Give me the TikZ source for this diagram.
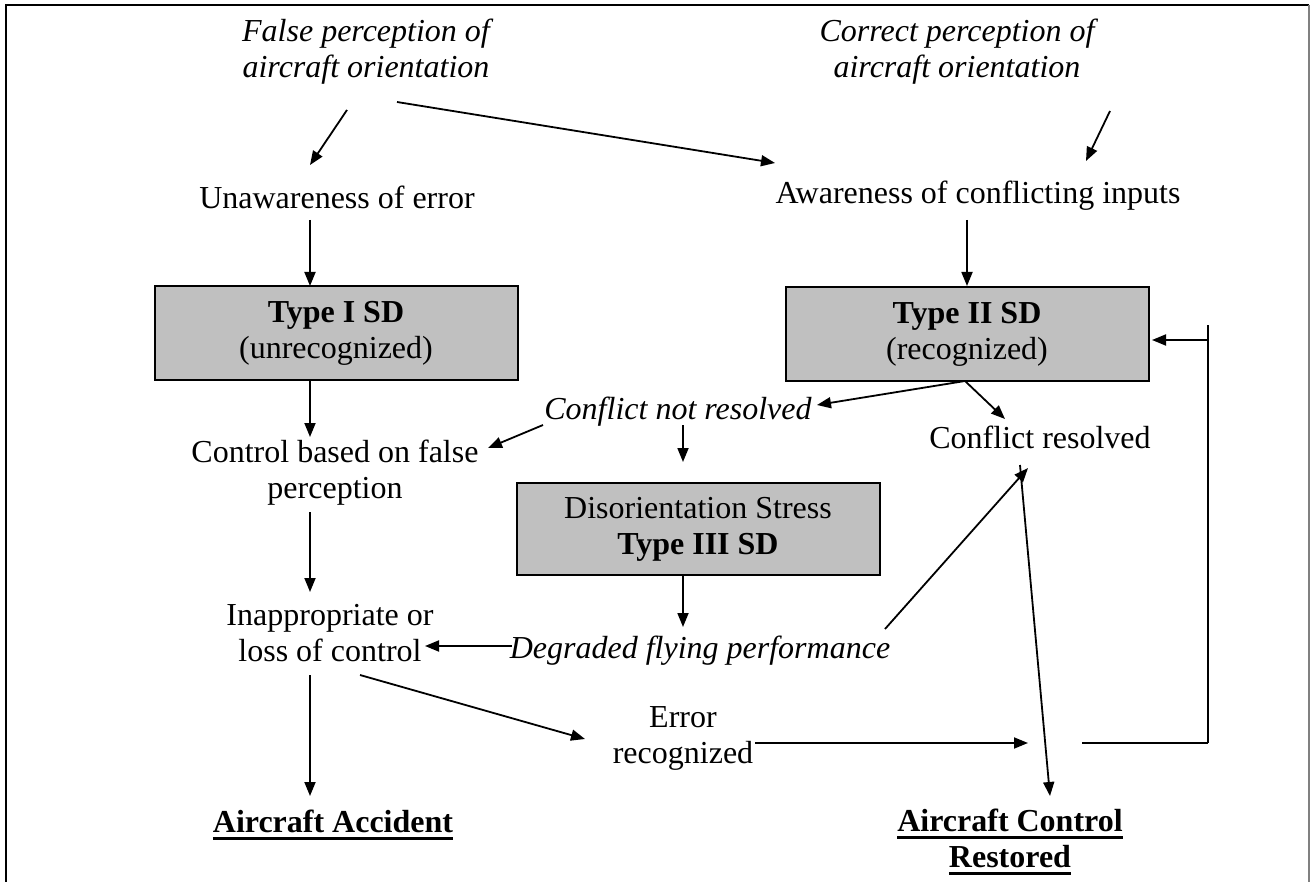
\documentclass[tikz,border=0pt]{standalone}
\usepackage{fontspec}
\setmainfont{Liberation Serif}
\usetikzlibrary{arrows.meta}
\definecolor{boxgray}{RGB}{192,192,192}
\newcommand{\thkul}[1]{\leavevmode\vtop{\hbox{#1}\kern1.8pt\hrule height 1.4pt}}
\begin{document}
\begin{tikzpicture}[x=0.5pt,y=-0.5pt,
  txt/.style={font=\fontsize{16}{18}\selectfont, align=center, inner sep=0pt},
  ital/.style={txt, font=\fontsize{16}{18}\selectfont\itshape},
  bld/.style={txt, font=\fontsize{16}{18}\selectfont\bfseries},
  sdbox/.style={txt, draw, line width=1pt, fill=boxgray, minimum width=181.5pt, minimum height=47pt},
  arr/.style={line width=0.9pt, -{Triangle[length=7pt,width=5.5pt]}},
  ln/.style={line width=0.9pt}]
\useasboundingbox (0,0) rectangle (1312,882);
% frame
\draw[line width=1.2pt] (6,882) -- (6,5) -- (1309,5);
\draw[line width=0.6pt, gray] (1309,5) -- (1309,882);
% nodes
\node[ital] (fp) at (366,52) {False perception of\\aircraft orientation};
\node[ital] (cp) at (957,52) {Correct perception of\\aircraft orientation};
\node[txt] (un) at (337,197) {Unawareness of error};
\node[txt] (aw) at (978,196) {Awareness of conflicting inputs};
\node[sdbox] (t1) at (336,333) {\textbf{Type I SD}\\(unrecognized)};
\node[sdbox] (t2) at (967,334) {\textbf{Type II SD}\\(recognized)};
\node[ital] (cnr) at (678,412) {Conflict not resolved};
\node[txt] (cr) at (1040,437) {Conflict resolved};
\node[txt] (cf) at (335,473) {Control based on false\\perception};
\node[sdbox, minimum height=46pt] (t3) at (698,529) {Disorientation Stress\\\textbf{Type III SD}};
\node[txt] (ia) at (330,633) {Inappropriate or\\loss of control};
\node[ital] (dfp) at (700,651) {Degraded flying performance};
\node[txt] (er) at (683,738) {Error\\recognized};
\node[bld] (aa) at (333,825) {\thkul{Aircraft Accident}};
\node[bld] (acr) at (1010,842) {\thkul{Aircraft Control}\\\thkul{Restored}};
% connector end points
\coordinate (fpa) at (347,110);  \coordinate (una) at (310,165);
\coordinate (fpb) at (397,102);  \coordinate (awa) at (775,163);
\coordinate (cpa) at (1110,111); \coordinate (awb) at (1086,161);
\coordinate (unb) at (310,220);  \coordinate (t1a) at (310,286);
\coordinate (t1b) at (310,381);  \coordinate (cfa) at (310,437);
\coordinate (cfb) at (310,512);  \coordinate (iaa) at (310,592);
\coordinate (iab) at (310,675);  \coordinate (aaa) at (310,796);
\coordinate (awc) at (967,220);  \coordinate (t2a) at (967,286);
\coordinate (t2b) at (965,381);  \coordinate (cnra) at (817,405);
\coordinate (cra) at (1005,419);
\coordinate (cnrb) at (543,425); \coordinate (cfc) at (488,448);
\coordinate (cnrc) at (683,425); \coordinate (t3a) at (683,462);
\coordinate (t3b) at (683,575);  \coordinate (dfpa) at (683,627);
\coordinate (dfpb) at (512,646); \coordinate (iac) at (425,646);
\coordinate (dfpc) at (885,629); \coordinate (crb) at (1028,468);
\coordinate (iad) at (360,675);  \coordinate (era) at (585,739);
\coordinate (erb) at (755,743);  \coordinate (mid) at (1028,743);
\coordinate (crc) at (1020,465); \coordinate (acra) at (1050,796);
\coordinate (fbs) at (1082,743); \coordinate (fbc) at (1208,743);
\coordinate (fbt) at (1208,335); \coordinate (t2c) at (1152,340);
% connectors
\draw[arr] (fpa) -- (una);
\draw[arr] (fpb) -- (awa);
\draw[arr] (cpa) -- (awb);
\draw[arr] (unb) -- (t1a);
\draw[arr] (t1b) -- (cfa);
\draw[arr] (cfb) -- (iaa);
\draw[arr] (iab) -- (aaa);
\draw[arr] (awc) -- (t2a);
\draw[arr] (t2b) -- (cnra);
\draw[arr] (t2b) -- (cra);
\draw[arr] (cnrb) -- (cfc);
\draw[arr] (cnrc) -- (t3a);
\draw[arr] (t3b) -- (dfpa);
\draw[arr] (dfpb) -- (iac);
\draw[arr] (dfpc) -- (crb);
\draw[arr] (iad) -- (era);
\draw[arr] (erb) -- (mid);
\draw[arr] (crc) -- (acra);
\draw[ln] (fbs) -- (fbc);
\draw[ln] (fbc) -- ([yshift=5]fbt);
\draw[arr] (fbt) ++(0,5) -- (t2c);
\end{tikzpicture}
\end{document}
